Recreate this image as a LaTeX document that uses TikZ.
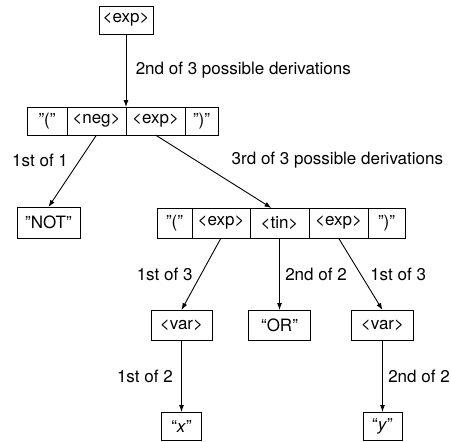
\documentclass[tikz,border=0pt]{standalone}
\usepackage{fontspec}
\setmainfont{TeX Gyre Heros}
\usetikzlibrary{positioning,arrows.meta}
\tikzset{
  >={Latex[length=7pt,width=5pt]},
  cell/.style={draw, minimum height=28pt, inner sep=0pt, outer sep=0pt},
}

\begin{document}
\begin{tikzpicture}[
  x=1pt, y=-1pt,
  line width=0.9pt,
  node distance=0pt,
  font=\fontsize{17}{20}\selectfont,
  every edge/.style={draw,->},
]
\useasboundingbox (0,0) rectangle (451,442);
% top
\node[cell, minimum width=54pt] (e0) at (126,20) {<exp>};
% second level
\node[cell, minimum width=40pt, anchor=west] (lp1) at (27,121) {"("};
\node[cell, minimum width=59pt, right=of lp1] (neg1) {<neg>};
\node[cell, minimum width=59pt, right=of neg1] (exp1) {<exp>};
\node[cell, minimum width=33pt, right=of exp1] (rp1) {")"};
\node[cell, minimum width=63pt, minimum height=31pt] (nt) at (48.5,222.5) {"NOT"};
% third level
\node[cell, minimum width=35pt, minimum height=30pt, anchor=west] (lp2) at (157,223) {"("};
\node[cell, minimum width=58pt, minimum height=30pt, right=of lp2] (expa) {<exp>};
\node[cell, minimum width=59pt, minimum height=30pt, right=of expa] (tin) {<tin>};
\node[cell, minimum width=59pt, minimum height=30pt, right=of tin] (expb) {<exp>};
\node[cell, minimum width=37pt, minimum height=30pt, right=of expb] (rp2) {")"};
\node[cell, minimum width=61pt, minimum height=30pt] (var1) at (181.5,325) {<var>};
\node[cell, minimum width=62pt, minimum height=30pt] (or) at (279.5,325) {“OR"};
\node[cell, minimum width=62pt, minimum height=30pt] (var2) at (382.5,325) {<var>};
% leaves
\node[cell, minimum width=40pt] (vx) at (181.5,426) {“\textit{x}"};
\node[cell, minimum width=39pt] (vy) at (382.5,426) {“\textit{y}"};

\path
(e0) edge node[right=6pt] {2nd of 3 possible derivations} (neg1.north east)
(neg1.south) edge node[pos=0.35, left=8pt] {1st of 1} (nt.north)
(exp1.south) edge node[pos=0.34, right=33pt] {3rd of 3 possible derivations} ([xshift=-8pt]tin.north)
(expa.south) edge node[left=5pt] {1st of 3} (var1.north)
(tin.south) edge node[right=2pt] {2nd of 2} (or.north)
(expb.south) edge node[right=6pt] {1st of 3} (var2.north)
(var1) edge node[left=5pt] {1st of 2} (vx)
(var2) edge node[right=2pt] {2nd of 2} (vy);
\end{tikzpicture}
\end{document}
